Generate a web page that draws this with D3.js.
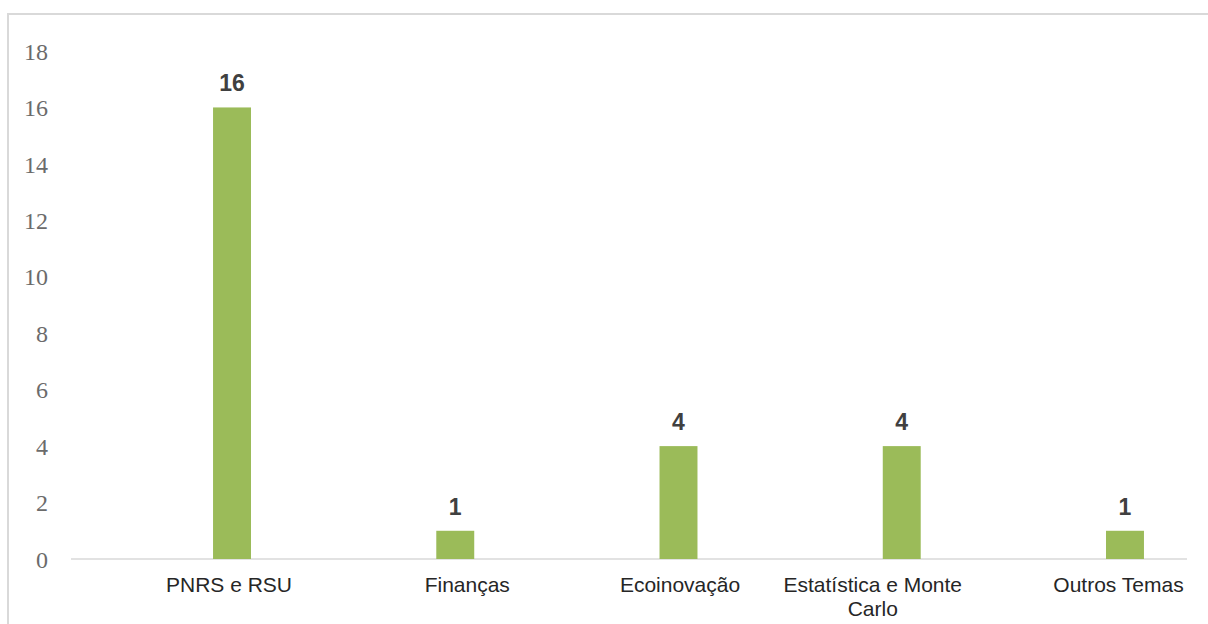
<!DOCTYPE html>
<html>
<head>
<meta charset="utf-8">
<script src="https://cdn.jsdelivr.net/npm/d3@7"></script>
<style>
  html, body { margin: 0; padding: 0; background: #fff; }
  svg { display: block; }
</style>
</head>
<body>
<svg id="chart" width="1208" height="624"></svg>
<script>
const categories = ["PNRS e RSU", "Finanças", "Ecoinovação", "Estatística e Monte Carlo", "Outros Temas"];
const categoryLines = [["PNRS e RSU"], ["Finanças"], ["Ecoinovação"], ["Estatística e Monte", "Carlo"], ["Outros Temas"]];
const values = [16, 1, 4, 4, 1];
const yTicks = [0, 2, 4, 6, 8, 10, 12, 14, 16, 18];

// layout only: horizontal nudges of the category labels, as in the reference
const labelNudge = [-3, 12, 1.5, -29, -6.5];

const svg = d3.select("#chart");

// chart frame
svg.append("rect")
  .attr("x", 8).attr("y", 14)
  .attr("width", 1215).attr("height", 625)
  .attr("fill", "#fff")
  .attr("stroke", "#d9d9d9")
  .attr("stroke-width", 2);

const y = d3.scaleLinear().domain([0, 18]).range([559, 51]);
const x = d3.scaleBand().domain(categories)
  .range([120.4, 1236.6])
  .paddingInner(0.83)
  .paddingOuter(0.415);

// y axis labels
const yAxis = d3.axisLeft(y).tickValues(yTicks).tickSize(0).tickPadding(0);
const gy = svg.append("g").attr("transform", "translate(48,0)").call(yAxis);
gy.select(".domain").remove();
gy.selectAll("text")
  .attr("font-family", "'Liberation Serif', 'Times New Roman', serif")
  .attr("font-size", 24)
  .attr("fill", "#6b6b6b")
  .attr("dy", "0.34em");

// baseline
svg.append("line")
  .attr("x1", 71).attr("x2", 1187)
  .attr("y1", y(0)).attr("y2", y(0))
  .attr("stroke", "#d9d9d9").attr("stroke-width", 1.5);

// bars
svg.append("g").selectAll("rect")
  .data(values)
  .join("rect")
  .attr("x", (d, i) => x(categories[i]))
  .attr("y", d => y(d))
  .attr("width", x.bandwidth())
  .attr("height", d => y(0) - y(d))
  .attr("fill", "#9bbb59");

// value labels
svg.append("g").selectAll("text")
  .data(values)
  .join("text")
  .attr("x", (d, i) => x(categories[i]) + x.bandwidth() / 2)
  .attr("y", d => y(d) - 16)
  .attr("text-anchor", "middle")
  .attr("font-family", "'Liberation Sans', Arial, sans-serif")
  .attr("font-weight", "bold")
  .attr("font-size", 23)
  .attr("fill", "#404040")
  .text(d => d);

// category labels
const cat = svg.append("g").selectAll("text")
  .data(categories)
  .join("text")
  .attr("y", 592)
  .attr("text-anchor", "middle")
  .attr("font-family", "'Liberation Sans', Arial, sans-serif")
  .attr("font-size", 21)
  .attr("fill", "#262626");
cat.each(function(d, i) {
  const t = d3.select(this);
  const cx = x(d) + x.bandwidth() / 2 + labelNudge[i];
  categoryLines[i].forEach((line, j) => {
    t.append("tspan")
      .attr("x", cx)
      .attr("dy", j === 0 ? 0 : 24)
      .text(line);
  });
});
</script>
</body>
</html>
